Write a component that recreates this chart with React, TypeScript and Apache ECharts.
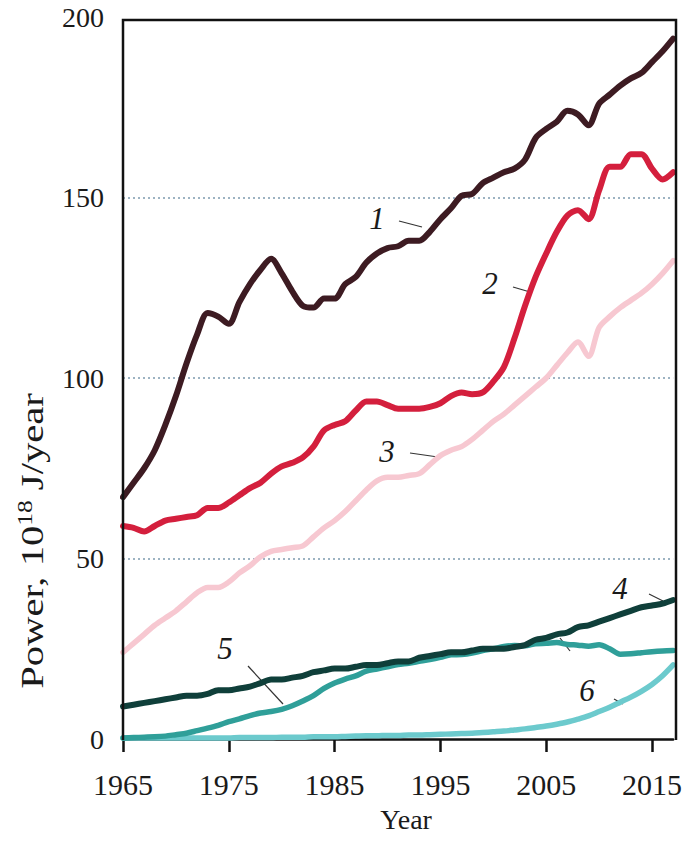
import React, { useEffect, useRef } from "react";
import * as echarts from "echarts";

const years: string[] = [];
for (let y = 1965; y <= 2017; y++) years.push(String(y));

const tickYears = ["1965", "1975", "1985", "1995", "2005", "2015"];

// 1 — oil
const oil = [67, 71, 75, 80, 87, 95, 104, 112, 118, 117, 115, 121, 126, 130, 133, 129, 124, 120, 119.5, 122, 122, 126, 128, 132, 134.5, 136, 136.5, 138, 138, 140.5, 144, 147, 150.5, 151, 154, 155.5, 157, 158, 160.5, 166.5, 169, 171, 174, 173, 170, 176, 178.5, 181, 183, 184.5, 187.5, 190.5, 194];
// 2 — coal
const coal = [59, 58.5, 57.5, 59, 60.5, 61, 61.5, 62, 64, 64, 65.5, 67.5, 69.5, 71, 73.5, 75.5, 76.5, 78, 81, 85.5, 87, 88, 91, 93.5, 93.5, 92.5, 91.5, 91.5, 91.5, 92, 93, 95, 96, 95.5, 96, 99, 103, 111, 120, 128, 134.5, 140.5, 145, 146.5, 144, 152, 158.5, 158.5, 162, 162, 158, 155, 157];
// 3 — gas
const gas = [24, 26.5, 29, 31.5, 33.5, 35.5, 38, 40.5, 42, 42, 43.5, 46, 48, 50.5, 52, 52.5, 53, 53.5, 56, 58.5, 60.5, 63, 66, 69, 71.5, 72.5, 72.5, 73, 73.5, 76, 78.5, 80, 81, 83, 85.5, 88, 90, 92.5, 95, 97.5, 100, 103.5, 107, 110, 106, 114, 117, 119.5, 121.5, 123.5, 126, 129, 132.5];
// 4 — hydro
const hydro = [9, 9.5, 10, 10.5, 11, 11.5, 12, 12, 12.5, 13.5, 13.5, 14, 14.5, 15.5, 16.5, 16.5, 17, 17.5, 18.5, 19, 19.5, 19.5, 20, 20.5, 20.5, 21, 21.5, 21.5, 22.5, 23, 23.5, 24, 24, 24.5, 25, 25, 25, 25.5, 26, 27.5, 28, 29, 29.5, 31, 31.5, 32.5, 33.5, 34.5, 35.5, 36.5, 37, 37.5, 38.5];
// 5 — nuclear
const nuclear = [0.3, 0.4, 0.5, 0.6, 0.8, 1.2, 1.6, 2.3, 3, 3.8, 4.8, 5.6, 6.5, 7.2, 7.6, 8.2, 9.2, 10.5, 12, 14, 15.5, 16.6, 17.5, 18.8, 19.4, 20, 20.6, 21, 21.5, 22, 22.6, 23.3, 23.4, 23.8, 24.5, 25, 25.6, 25.9, 25.8, 26.4, 26.5, 26.7, 26.2, 26, 25.7, 26.1, 25, 23.5, 23.6, 23.9, 24.2, 24.4, 24.5];
// 6 — renewables
const renew = [0.3, 0.3, 0.3, 0.3, 0.3, 0.3, 0.3, 0.3, 0.3, 0.3, 0.3, 0.4, 0.4, 0.4, 0.4, 0.5, 0.5, 0.5, 0.6, 0.6, 0.6, 0.7, 0.8, 0.9, 0.9, 1.0, 1.0, 1.1, 1.1, 1.2, 1.3, 1.4, 1.5, 1.6, 1.8, 2.0, 2.2, 2.5, 2.8, 3.2, 3.6, 4.1, 4.7, 5.5, 6.4, 7.6, 8.8, 10.2, 11.6, 13.2, 15.1, 17.5, 20.5];

const yTicks = [0, 50, 100, 150, 200];

const FONT = "Liberation Serif";

export default function App() {
  const ref = useRef<HTMLDivElement>(null);
  useEffect(() => {
    if (!ref.current) return;
    const chart = echarts.init(ref.current, null, { renderer: "svg" });
    const mk = (name: string, data: number[], color: string, width: number) => ({
      name,
      type: "line",
      data,
      showSymbol: false,
      smooth: 0.3,
      lineStyle: { color, width, cap: "round", join: "round" },
      itemStyle: { color },
    });
    const num = (t: string, x: number, y: number) => ({
      type: "text",
      x,
      y,
      style: {
        text: t,
        font: `italic 31px "${FONT}"`,
        fill: "#1a1a1a",
        align: "center",
        verticalAlign: "middle",
      },
    });
    const lead = (x1: number, y1: number, x2: number, y2: number) => ({
      type: "line",
      shape: { x1, y1, x2, y2 },
      style: { stroke: "#333", lineWidth: 1.2 },
    });
    const grid = "#9db3c2";
    chart.setOption({
      animation: false,
      backgroundColor: "#ffffff",
      grid: { left: 123, right: 9, top: 17, bottom: 103 },
      xAxis: {
        type: "category",
        data: years,
        boundaryGap: false,
        axisLine: { show: true, lineStyle: { color: "#111", width: 2.5 } },
        axisTick: {
          show: true,
          length: 13,
          interval: (i: number) => tickYears.includes(years[i]),
          lineStyle: { color: "#111", width: 2.5 },
        },
        axisLabel: {
          interval: (i: number) => tickYears.includes(years[i]),
          fontFamily: FONT,
          fontSize: 30,
          color: "#1a1a1a",
          margin: 30,
        },
        splitLine: { show: false },
        name: "Year",
        nameLocation: "middle",
        nameGap: 66,
        nameTextStyle: { fontFamily: FONT, fontSize: 28, color: "#1a1a1a", padding: [0, 0, 0, 16] },
      },
      yAxis: {
        type: "value",
        min: yTicks[0],
        max: yTicks[yTicks.length - 1],
        interval: 50,
        axisLine: { show: false },
        axisTick: { show: false },
        axisLabel: { fontFamily: FONT, fontSize: 28, color: "#1a1a1a", margin: 19 },
        splitLine: {
          show: true,
          lineStyle: {
            color: ["rgba(0,0,0,0)", grid, grid, grid, "rgba(0,0,0,0)"],
            type: [2, 3],
            width: 1.8,
          },
        },
      },
      graphic: [
        {
          type: "polyline",
          shape: { points: [[123, 740], [123, 20], [676, 20], [676, 740]] },
          style: { stroke: "#111", lineWidth: 2.5, fill: "none" },
          z: 10,
        },
        {
          type: "text",
          x: 32,
          y: 541,
          rotation: Math.PI / 2,
          scaleX: 1.27,
          style: {
            text: "{a|Power, 10}{s|18}{a| J/year}",
            font: `32px "${FONT}"`,
            align: "center",
            verticalAlign: "middle",
            fill: "#1a1a1a",
            rich: {
              a: { font: `32px "${FONT}"`, fontFamily: FONT, fontSize: 32, fill: "#1a1a1a", verticalAlign: "bottom" },
              s: { font: `20px "${FONT}"`, fontFamily: FONT, fontSize: 20, fill: "#1a1a1a", verticalAlign: "bottom", padding: [0, 0, 13, 0] },
            },
          },
        },
        num("1", 377, 218),
        lead(399, 221, 422, 227),
        num("2", 490, 283),
        lead(513, 287, 530, 292),
        num("3", 387, 451),
        lead(410, 453, 438, 457),
        num("4", 620, 588),
        lead(649, 594, 663, 601),
        num("5", 225, 648),
        lead(248, 666, 283, 704),
        num("6", 587, 690),
        lead(614, 699, 623, 704),
        lead(560, 638, 570, 651),
      ],
      series: [
        mk("6", renew, "#6ccacd", 5.5),
        mk("5", nuclear, "#2f9f99", 5.5),
        mk("4", hydro, "#0f3f3a", 6),
        mk("3", gas, "#f7c8d1", 5.5),
        mk("2", coal, "#d41f3d", 6),
        mk("1", oil, "#3d1b22", 6),
      ],
    });
    return () => chart.dispose();
  }, []);
  return <div ref={ref} style={{ width: 685, height: 842, position: "absolute", left: 0, top: 0 }} />;
}
